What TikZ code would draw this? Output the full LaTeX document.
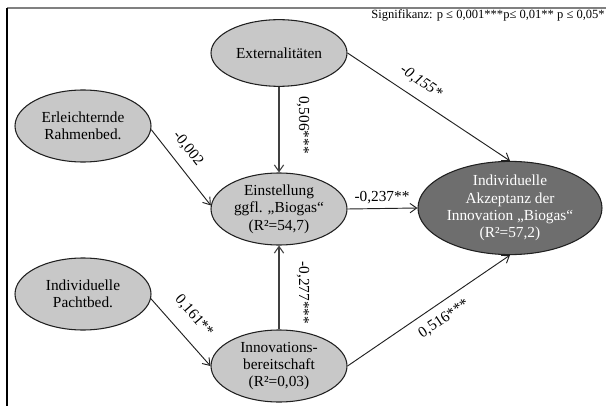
\documentclass[tikz,border=0pt]{standalone}
\usepackage{fontspec}
\setmainfont{Liberation Serif}
\usetikzlibrary{shapes.geometric,arrows.meta}
\definecolor{lightfill}{HTML}{C8C8C8}
\definecolor{darkfill}{HTML}{6E6E6E}
\definecolor{edgecol}{HTML}{202020}
\tikzset{
  latent/.style={ellipse, draw=edgecol, line width=0.8pt, fill=lightfill, inner sep=0pt,
    minimum width=102pt, minimum height=54pt, align=center,
    font=\fontsize{11.5}{13}\selectfont},
  target/.style={latent, fill=darkfill, text=white, minimum width=138pt, minimum height=66pt},
  path/.style={draw=edgecol, line width=0.7pt, -{Straight Barb[length=5pt,width=7pt]}},
  thickpath/.style={draw=black!75, line width=1.6pt, -{Straight Barb[length=5pt,width=7pt,line width=0.8pt]}},
  coef/.style={font=\fontsize{11.5}{13}\selectfont, inner sep=1pt}
}
\begin{document}
\begin{tikzpicture}[x=0.75pt,y=-0.75pt]
\useasboundingbox (0,0) rectangle (606,406);
% frame
\draw[draw=black!50, line width=1.5pt] (7,8) -- (606,8);
\draw[draw=black, line width=1.2pt] (7,8) -- (7,406);
% significance
\node[anchor=east, font=\fontsize{9.4}{11}\selectfont, inner sep=0pt] (sig) at (605,15)
  {Signifikanz: p ≤ 0,001***p≤ 0,01** p ≤ 0,05*};
% nodes
\node[latent, minimum height=50pt] (ext) at (279,53) {Externalitäten};
\node[latent] (erl) at (83,126) {Erleichternde\\Rahmenbed.};
\node[latent] (pac) at (83,294) {Individuelle\\Pachtbed.};
\node[latent] (ein) at (279,209) {Einstellung\\ggfl. „Biogas“\\(R²=54,7)};
\node[latent] (inn) at (279,366) {Innovations-\\bereitschaft\\(R²=0,03)};
\node[target] (akz) at (510,208) {Individuelle\\Akzeptanz der\\Innovation „Biogas“\\(R²=57,2)};
% connectors
\draw[thickpath] (ext) -- (ein);
\draw[thickpath] (inn) -- (ein);
\draw[path] (erl.-3) -- (ein.177);
\draw[path] (pac.-4) -- (inn.west);
\draw[path] (ein.east) -- (akz.west);
\draw[path] (ext.east) -- (akz.north);
\draw[path] (inn.east) -- (akz.south);
% coefficients
\node[coef, rotate=-90] (c1) at (303,125) {0,506***};
\node[coef, rotate=-90] (c2) at (303,293) {-0,277***};
\node[coef] (c3) at (382,198) {-0,237**};
\node[coef, rotate=-34.5] (c4) at (421,82) {\itshape -0,155*};
\node[coef, rotate=-52] (c5) at (188,149) {-0,002};
\node[coef, rotate=-49] (c6) at (194,316) {0,161**};
\node[coef, rotate=34] (c7) at (444,319) {0,516***};
\end{tikzpicture}
\end{document}
